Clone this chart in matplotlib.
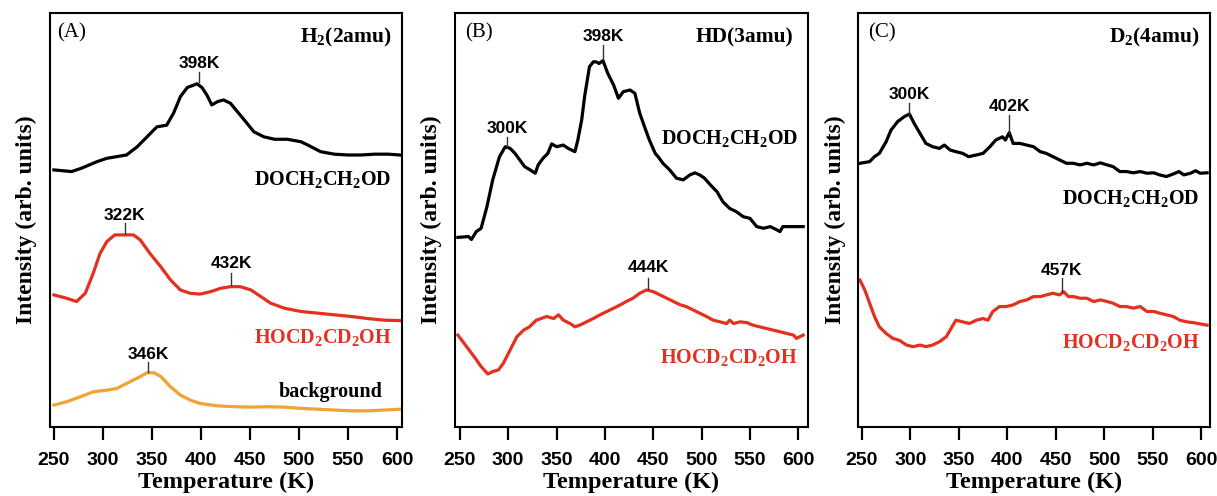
import matplotlib
matplotlib.use("Agg")
import matplotlib.pyplot as plt

plt.rcParams['mathtext.fontset'] = 'custom'
plt.rcParams['mathtext.rm'] = 'Liberation Serif'
plt.rcParams['mathtext.bf'] = 'Liberation Serif:bold'
plt.rcParams['mathtext.it'] = 'Liberation Serif:italic'

# ---------------- data (temperature K, intensity arb. units) ----------------
a_doc_T = [250, 268, 278, 294, 304, 314, 324, 335, 345, 355, 365, 372, 379, 386, 396, 401, 406, 411,
           417, 423, 430, 437, 444, 454, 464, 475, 488, 502, 509, 522, 536, 550, 563, 577, 591, 603]
a_doc_I = [62.1, 61.7, 62.5, 64.1, 64.9, 65.3, 65.7, 67.7, 70.1, 72.5, 72.9, 75.8, 79.8, 82.0, 82.9, 82.0,
           80.2, 77.8, 78.6, 79.0, 78.2, 76.2, 74.2, 71.3, 70.1, 69.5, 69.5, 68.9, 68.1, 66.5, 65.9, 65.7,
           65.7, 65.9, 65.9, 65.7]

a_hoc_T = [250, 263, 273, 282, 290, 297, 304, 312, 321, 331, 338, 348, 359, 369, 379, 389, 399, 410,
           420, 430, 440, 451, 461, 471, 485, 502, 519, 536, 553, 570, 587, 603]
a_hoc_I = [31.9, 31.1, 30.3, 32.3, 37.1, 41.9, 44.8, 46.4, 46.4, 46.4, 45.2, 41.9, 38.7, 35.5, 33.1, 32.3,
           32.1, 32.7, 33.5, 33.9, 33.9, 33.1, 31.5, 29.9, 28.7, 27.9, 27.5, 27.1, 26.7, 26.2, 25.8, 25.7]

a_bg_T = [250, 263, 277, 290, 304, 314, 324, 335, 345, 352, 359, 369, 379, 389, 399, 417, 434, 451,
          468, 485, 502, 519, 536, 553, 570, 587, 603]
a_bg_I = [5.3, 6.1, 7.3, 8.5, 8.9, 9.3, 10.5, 11.8, 13.1, 13.1, 12.2, 9.7, 7.7, 6.5, 5.7, 5.1, 4.9, 4.8,
          4.9, 4.8, 4.5, 4.3, 4.1, 3.9, 3.9, 4.1, 4.3]

b_doc_T = [248, 259, 262, 267, 272, 278, 284, 291, 297, 302, 307, 312, 317, 322, 328, 331, 336, 341,
           345, 350, 357, 362, 369, 372, 376, 379, 384, 388, 391, 394, 398, 403, 409, 414, 419, 426,
           431, 436, 441, 446, 452, 455, 460, 467, 474, 481, 488, 493, 498, 503, 509, 516, 522, 529,
           536, 543, 550, 557, 564, 571, 578, 581, 584, 591, 598, 605]
b_doc_I = [45.8, 46.0, 45.3, 47.2, 48.0, 53.2, 59.7, 65.3, 67.7, 67.3, 66.1, 64.5, 62.9, 62.2, 61.3,
           63.3, 64.9, 66.1, 68.4, 67.7, 68.1, 67.3, 66.5, 69.3, 74.2, 79.8, 87.0, 88.2, 88.2, 87.8,
           88.5, 85.4, 82.6, 79.4, 81.0, 81.4, 80.6, 75.8, 72.5, 69.3, 66.1, 65.3, 63.7, 62.1, 60.1,
           59.7, 60.9, 61.4, 60.9, 60.1, 58.5, 56.8, 54.4, 52.8, 52.0, 50.8, 50.4, 48.4, 48.0, 48.4,
           47.6, 47.2, 48.4, 48.4, 48.4, 48.4]

b_hoc_T = [248, 257, 266, 272, 279, 284, 290, 295, 302, 309, 316, 322, 329, 334, 340, 347, 352, 357,
           364, 369, 374, 381, 388, 395, 402, 409, 416, 422, 429, 436, 443, 450, 457, 464, 471, 478,
           484, 491, 498, 505, 512, 519, 526, 529, 533, 540, 547, 553, 560, 567, 574, 581, 588, 595,
           598, 605]
b_hoc_I = [22.2, 19.4, 16.6, 14.6, 12.8, 13.4, 13.8, 15.4, 18.6, 21.8, 23.4, 24.2, 25.8, 26.2, 26.7,
           26.2, 27.1, 25.8, 25.0, 24.2, 24.6, 25.4, 26.2, 27.1, 27.9, 28.7, 29.5, 30.3, 31.1, 32.3,
           33.1, 32.7, 31.9, 31.1, 30.3, 29.5, 29.1, 28.3, 27.5, 26.7, 25.8, 25.4, 25.0, 25.8, 25.0,
           25.4, 25.2, 24.6, 24.2, 23.8, 23.4, 23.0, 22.6, 22.2, 21.4, 22.2]

c_doc_T = [248, 258, 263, 268, 275, 280, 287, 294, 299, 304, 310, 316, 323, 330, 335, 341, 347, 354,
           360, 368, 375, 382, 388, 395, 398, 402, 406, 413, 420, 427, 434, 440, 447, 454, 461, 468,
           475, 482, 489, 496, 503, 509, 516, 523, 530, 537, 544, 551, 557, 564, 571, 577, 582, 589,
           594, 599, 606]
c_doc_I = [63.7, 64.1, 65.3, 66.1, 68.9, 71.7, 73.8, 75.0, 75.6, 73.3, 70.9, 68.5, 67.7, 67.3, 68.1,
           66.9, 66.5, 66.1, 65.3, 65.7, 66.1, 67.7, 69.3, 70.1, 69.3, 71.1, 68.5, 68.5, 68.1, 67.7,
           66.5, 66.1, 65.3, 64.5, 63.7, 63.7, 63.3, 63.7, 63.3, 63.8, 63.3, 62.9, 61.7, 61.7, 61.4,
           61.7, 61.3, 61.4, 60.9, 60.5, 61.1, 61.7, 60.9, 61.3, 61.9, 61.3, 61.4]

c_hoc_T = [248, 253, 258, 263, 268, 275, 282, 289, 296, 303, 310, 316, 323, 330, 337, 342, 347, 354,
           361, 368, 375, 380, 385, 392, 399, 406, 413, 420, 427, 434, 440, 447, 454, 458, 463, 468,
           475, 482, 489, 496, 503, 509, 516, 523, 530, 537, 544, 551, 557, 564, 571, 578, 585, 592,
           599, 606]
c_hoc_I = [35.5, 33.1, 29.9, 26.7, 24.2, 22.6, 21.4, 20.9, 19.8, 19.4, 19.8, 19.4, 19.8, 20.6, 21.8,
           23.8, 25.8, 25.4, 25.0, 25.8, 26.2, 25.8, 27.9, 29.1, 29.1, 29.5, 30.3, 30.7, 31.5, 31.5,
           31.9, 32.3, 31.9, 32.7, 31.5, 31.5, 31.1, 31.1, 30.3, 30.7, 30.3, 29.9, 29.1, 29.1, 28.7,
           29.1, 27.9, 27.9, 27.5, 27.1, 26.7, 25.8, 25.4, 25.2, 24.9, 24.6]

xticks = [250, 300, 350, 400, 450, 500, 550, 600]
panel_tags = ['(A)', '(B)', '(C)']
panel_titles = [r'$\mathbf{H_2}$' + '(2amu)', 'HD(3amu)', r'$\mathbf{D_2}$' + '(4amu)']

# peak annotations: (panel, T, text_y, tick_top, tick_bottom, label)
peaks = [
    (0, 398, 87.9, 85.7, 83.3, '398K'),
    (0, 322, 51.2, 49.3, 46.8, '322K'),
    (0, 431, 39.6, 37.2, 34.2, '432K'),
    (0, 346, 17.6, 15.6, 13.3, '346K'),
    (1, 299, 72.2, 70.0, 67.9, '300K'),
    (1, 398, 94.4, 92.3, 88.7, '398K'),
    (1, 445, 38.6, 36.0, 33.3, '444K'),
    (2, 299, 80.2, 78.3, 75.7, '300K'),
    (2, 402, 77.3, 75.4, 71.0, '402K'),
    (2, 456, 37.9, 36.0, 32.6, '457K'),
]

RED = '#e3301f'
ORANGE = '#f0a233'

DOC = r'$\mathbf{DOCH_2CH_2OD}$'
HOC = r'$\mathbf{HOCD_2CD_2OH}$'

# series labels: (panel, text, color, x_frac, y_value)
series_labels = [
    (0, DOC, 'black', 0.97, 59.7),
    (0, HOC, RED, 0.972, 21.5),
    (0, 'background', 'black', 0.945, 8.5),
    (1, DOC, 'black', 0.972, 69.8),
    (1, HOC, RED, 0.972, 16.7),
    (2, DOC, 'black', 0.97, 55.3),
    (2, HOC, RED, 0.97, 20.3),
]

curves = [
    (0, a_doc_T, a_doc_I, 'black'),
    (0, a_hoc_T, a_hoc_I, RED),
    (0, a_bg_T, a_bg_I, ORANGE),
    (1, b_doc_T, b_doc_I, 'black'),
    (1, b_hoc_T, b_hoc_I, RED),
    (2, c_doc_T, c_doc_I, 'black'),
    (2, c_hoc_T, c_hoc_I, RED),
]

W, H = 1217, 496
fig = plt.figure(figsize=(W / 100, H / 100), dpi=100)
boxes = [(50, 352, (246, 605)), (455, 353, (245, 610)), (858, 352, (246, 609))]
axes = []
for left, width, xl in boxes:
    ax = fig.add_axes([left / W, (H - 427) / H, width / W, 414 / H])
    ax.set_xlim(*xl)
    ax.set_ylim(0, 100)
    ax.set_yticks([])
    ax.set_xticks(xticks)
    ax.tick_params(axis='x', direction='out', length=9, width=1.6, pad=9)
    for lbl in ax.get_xticklabels():
        lbl.set_fontfamily('Liberation Sans')
        lbl.set_fontweight('bold')
        lbl.set_fontsize(14)
    for s in ax.spines.values():
        s.set_linewidth(1.5)
    ax.set_xlabel('Temperature (K)', family='Liberation Serif', weight='bold', fontsize=17.5, labelpad=2)
    ax.set_ylabel('Intensity (arb. units)', family='Liberation Serif', weight='bold', fontsize=17, labelpad=9)
    axes.append(ax)

for p, T, I, c in curves:
    axes[p].plot(T, I, color=c, lw=2.3, solid_joinstyle='round')

for i, ax in enumerate(axes):
    ax.text(0.02 if i == 0 else 0.028, 0.952, panel_tags[i], transform=ax.transAxes,
            family='Liberation Serif', fontsize=15, ha='left', va='center')
    ax.text(0.97 if i != 1 else 0.96, 0.942, panel_titles[i], transform=ax.transAxes,
            family='Liberation Serif', weight='bold', fontsize=15.5, ha='right', va='center')

for p, T, ty, t1, t2, txt in peaks:
    ax = axes[p]
    ax.plot([T, T], [t2, t1], color='#333333', lw=1.0)
    ax.text(T, ty, txt, family='Liberation Sans', weight='bold', fontsize=12.5,
            ha='center', va='center')

for p, txt, c, xf, yv in series_labels:
    ax = axes[p]
    ax.text(xf, yv, txt, color=c, transform=ax.get_yaxis_transform(),
            family='Liberation Serif', weight='bold', fontsize=14.5, ha='right', va='center')

fig.savefig('out.png', dpi=100)
